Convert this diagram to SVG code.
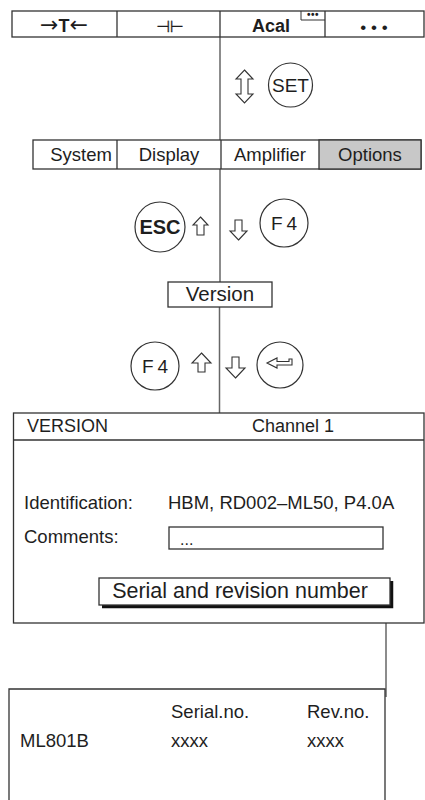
<svg xmlns="http://www.w3.org/2000/svg" width="425" height="800" viewBox="0 0 425 800">
<style>
.box{fill:#fff;stroke:#333;stroke-width:1.3}
.key{fill:#fff;stroke:#333;stroke-width:1.2}
.conn{stroke:#666;stroke-width:1.5;fill:none}
.arr{fill:#fff;stroke:#333;stroke-width:1.1;stroke-linejoin:miter}
.t{font-family:"Liberation Sans",Arial,sans-serif;fill:#1e1e1e}
.dv{font-family:"DejaVu Sans",sans-serif;font-weight:normal}
.b{font-weight:bold}
.m{text-anchor:middle}
</style>
<rect width="425" height="800" fill="#fff"/>
<g id="connectors">
<line class="conn" x1="220" y1="37" x2="220" y2="140"/>
<line class="conn" x1="220" y1="169" x2="220" y2="282"/>
<line class="conn" x1="219.5" y1="307" x2="219.5" y2="413"/>
<line class="conn" x1="386" y1="608" x2="386" y2="697"/>
</g>
<g id="top-bar">
<rect class="box" x="12" y="11" width="412" height="26"/>
<line class="box" x1="117" y1="11" x2="117" y2="37"/>
<line class="box" x1="220" y1="11" x2="220" y2="37"/>
<line class="box" x1="325" y1="11" x2="325" y2="37"/>
<text class="t m" x="64" y="31.5" font-size="18"><tspan class="dv" font-size="22">→</tspan><tspan class="b">T</tspan><tspan class="dv" font-size="22">←</tspan></text>
<text class="t m dv" x="170" y="32" font-size="16" stroke="#1e1e1e" stroke-width="0.3">⊣⊢</text>
<text class="t b m" x="271" y="32" font-size="18">Acal</text>
<path d="M301,11 V20 H325" fill="none" stroke="#333" stroke-width="1"/>
<text class="t b m" x="313" y="18" font-size="10" letter-spacing="0.5">•••</text>
<text class="t m" x="374" y="33" font-size="17">• • •</text>
</g>
<g id="set-key">
<polygon class="arr" points="244.5,70 253,79 248,79 248,94 253,94 244.5,103 236,94 241,94 241,79 236,79"/>
<circle class="key" cx="290.5" cy="85" r="22"/>
<text class="t m" x="290.5" y="92" font-size="19">SET</text>
</g>
<g id="menu-bar">
<rect class="box" x="33" y="140" width="388" height="29"/>
<rect x="319" y="140" width="102" height="29" fill="#c8c8c8" stroke="#333" stroke-width="1.3"/>
<line class="box" x1="117" y1="140" x2="117" y2="169"/>
<line class="box" x1="221" y1="140" x2="221" y2="169"/>
<text class="t m" x="81" y="161" font-size="18.5">System</text>
<text class="t m" x="169" y="161" font-size="18.5">Display</text>
<text class="t m" x="270" y="161" font-size="18.5">Amplifier</text>
<text class="t m" x="370" y="161" font-size="18.5">Options</text>
</g>
<g id="esc-key">
<circle class="key" cx="160" cy="227" r="25"/>
<text class="t b m" x="160" y="234" font-size="20">ESC</text>
<polygon class="arr" points="200.5,217 208,225 204,225 204,235 197,235 197,225 193,225"/>
</g>
<g id="f4-key">
<polygon class="arr" points="238.5,240 247,231 242,231 242,220 235,220 235,231 230,231"/>
<circle class="key" cx="284" cy="223" r="24"/>
<text class="t m" x="286" y="230" font-size="19" letter-spacing="4">F4</text>
</g>
<g id="version">
<rect class="box" x="168" y="282" width="104" height="25"/>
<text class="t m" x="220" y="301" font-size="20.5">Version</text>
</g>
<g id="f4-key-2">
<circle class="key" cx="155" cy="366" r="24"/>
<text class="t m" x="157" y="373" font-size="19" letter-spacing="4">F4</text>
<polygon class="arr" points="201.5,353 211,363 205,363 205,372 198,372 198,363 192,363"/>
</g>
<g id="enter-key">
<polygon class="arr" points="235.5,378 245,368 239,368 239,357 232,357 232,368 226,368"/>
<circle class="key" cx="280" cy="365" r="23"/>
<polygon class="arr" points="267,363 277,358 277,361.5 289,361.5 289,359 292,359 292,365 277,365 277,368"/>
</g>
<g id="version-panel">
<rect class="box" x="13.5" y="413" width="410.5" height="210"/>
<line class="box" x1="13.5" y1="440" x2="424" y2="440"/>
<text class="t" x="27" y="432" font-size="18">VERSION</text>
<text class="t" x="252" y="432" font-size="18">Channel 1</text>
<text class="t" x="24" y="509" font-size="18.5">Identification:</text>
<text class="t" x="168" y="509" font-size="18.5">HBM, RD002–ML50, P4.0A</text>
<text class="t" x="24" y="543" font-size="18.5">Comments:</text>
<rect class="box" x="169" y="527" width="214" height="22" stroke-width="1.1"/>
<text class="t" x="180" y="545" font-size="16">...</text>
</g>
<g id="serial-button">
<path d="M102,606.5 H391.5 V581" fill="none" stroke="#111" stroke-width="3.5"/>
<rect class="box" x="99" y="578" width="291" height="27" stroke-width="1.1"/>
<text class="t m" x="240" y="598" font-size="21.5">Serial and revision number</text>
</g>
<g id="serial-panel">
<path d="M9,801 V689 H385 V801" fill="#fff" stroke="#333" stroke-width="1.3"/>
<text class="t" x="171" y="718" font-size="18.5">Serial.no.</text>
<text class="t" x="307" y="718" font-size="18.5">Rev.no.</text>
<text class="t" x="20" y="747" font-size="18.5">ML801B</text>
<text class="t" x="171" y="747" font-size="18.5">xxxx</text>
<text class="t" x="307" y="747" font-size="18.5">xxxx</text>
</g>
</svg>
